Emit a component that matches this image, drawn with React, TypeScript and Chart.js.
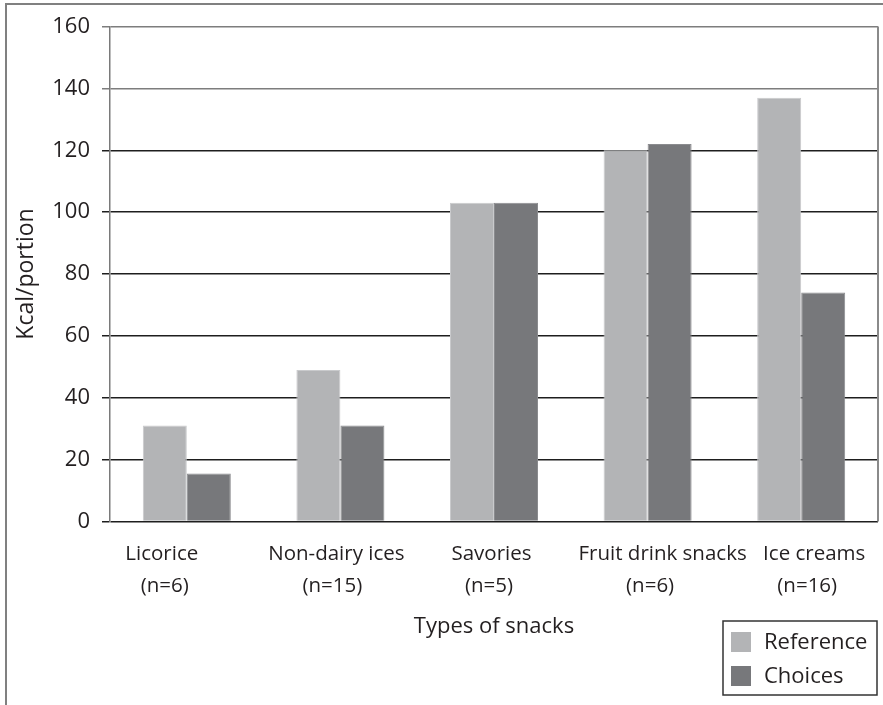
import { useEffect, useRef } from "react";
import { Chart, registerables } from "chart.js";

Chart.register(...registerables);

// Snack categories, sample sizes and energy per portion (kcal)
const categories = ["Licorice", "Non-dairy ices", "Savories", "Fruit drink snacks", "Ice creams"];
const sampleSizes = ["(n=6)", "(n=15)", "(n=5)", "(n=6)", "(n=16)"];
const referenceKcal = [31, 49, 103, 120, 137];
const choicesKcal = [15.5, 31, 103, 122, 74];
const seriesNames = ["Reference", "Choices"];
const yTickValues = [0, 20, 40, 60, 80, 100, 120, 140, 160];

const FONT = "'Open Sans', 'Noto Sans', sans-serif";
const INK = "#231f20";
const LIGHT = "#b3b4b6";
const DARK = "#77787b";

// Horizontal nudges of the two-line category captions (name, sample size)
const captionShift: [number, number][] = [
  [-25, -22],
  [-4, -8],
  [-2.5, -5],
  [15, 2.5],
  [13, 6],
];

const captionsPlugin = {
  id: "categoryCaptions",
  afterDraw(chart: any) {
    const { ctx, chartArea } = chart;
    const x = chart.scales.x;
    ctx.save();
    ctx.font = `20.5px ${FONT}`;
    ctx.fillStyle = INK;
    ctx.textAlign = "center";
    ctx.textBaseline = "alphabetic";
    categories.forEach((name, i) => {
      const cx = x.getPixelForValue(i);
      ctx.fillText(name, cx + captionShift[i][0], chartArea.bottom + 38.5);
      ctx.fillText(sampleSizes[i], cx + captionShift[i][1], chartArea.bottom + 70.5);
    });
    ctx.restore();
  },
};

const framePlugin = {
  id: "plotFrame",
  afterDraw(chart: any) {
    const { ctx, chartArea } = chart;
    ctx.save();
    ctx.strokeStyle = "#8a8a8a";
    ctx.lineWidth = 2;
    ctx.beginPath();
    ctx.moveTo(chartArea.right, chartArea.top);
    ctx.lineTo(chartArea.right, chartArea.bottom);
    ctx.stroke();
    ctx.restore();
  },
};

const legendPlugin = {
  id: "boxLegend",
  afterDraw(chart: any) {
    const { ctx } = chart;
    const left = 723;
    const top = 621;
    const width = 154;
    const height = 74;
    ctx.save();
    ctx.fillStyle = "#ffffff";
    ctx.fillRect(left, top, width, height);
    ctx.strokeStyle = "#333333";
    ctx.lineWidth = 1.5;
    ctx.strokeRect(left, top, width, height);
    ctx.font = `22px ${FONT}`;
    ctx.textAlign = "left";
    ctx.textBaseline = "middle";
    chart.data.datasets.forEach((ds: any, i: number) => {
      const rowY = top + 21 + i * 34;
      ctx.fillStyle = ds.backgroundColor;
      ctx.fillRect(left + 8, rowY - 10, 20, 20);
      ctx.fillStyle = INK;
      ctx.fillText(ds.label, left + 41, rowY + 1);
    });
    ctx.restore();
  },
};

export default function App() {
  const canvasRef = useRef<HTMLCanvasElement | null>(null);

  useEffect(() => {
    if (!canvasRef.current) return;
    const chart = new Chart(canvasRef.current, {
      type: "bar",
      data: {
        labels: categories,
        datasets: [
          {
            label: seriesNames[0],
            data: referenceKcal,
            backgroundColor: LIGHT,
            borderColor: "#c9cacc",
            borderWidth: 1,
            categoryPercentage: 0.573,
            barPercentage: 1,
          },
          {
            label: seriesNames[1],
            data: choicesKcal,
            backgroundColor: DARK,
            borderColor: "#8b8c8f",
            borderWidth: 1,
            categoryPercentage: 0.573,
            barPercentage: 1,
          },
        ],
      },
      options: {
        responsive: false,
        animation: false,
        devicePixelRatio: 1,
        layout: { padding: { left: 0, top: 26.5, right: 5, bottom: 0 } },
        plugins: {
          legend: { display: false },
          tooltip: { enabled: false },
        },
        scales: {
          x: {
            grid: { display: false, drawTicks: false },
            border: { display: false },
            ticks: { display: false },
            title: {
              display: true,
              text: "Types of snacks",
              color: INK,
              font: { family: FONT, size: 22 },
              padding: { top: 0, bottom: 65 },
            },
            afterFit(scale: any) {
              scale.height = 183.5;
            },
          },
          y: {
            min: 0,
            max: 160,
            afterBuildTicks(scale: any) {
              scale.ticks = yTickValues.map((v) => ({ value: v }));
            },
            grid: {
              color: (c: any) => (c.tick && c.tick.value >= 140 ? "#7d7d7d" : "#1e1e1e"),
              lineWidth: 1.5,
              drawTicks: true,
              tickLength: 8,
            },
            border: { display: true, color: "#7a7a7a", width: 1.5 },
            ticks: {
              color: INK,
              font: { family: FONT, size: 22 },
              padding: 12,
            },
            title: {
              display: true,
              text: "Kcal/portion",
              color: INK,
              font: { family: FONT, size: 23 },
              padding: { top: 13, bottom: 0 },
            },
            afterFit(scale: any) {
              scale.width = 110;
            },
          },
        },
      },
      plugins: [captionsPlugin, framePlugin, legendPlugin],
    });
    return () => chart.destroy();
  }, []);

  return (
    <div
      style={{
        position: "absolute",
        left: 0,
        top: 0,
        width: 883,
        height: 705,
        overflow: "hidden",
        background: "#ffffff",
      }}
    >
      <canvas
        ref={canvasRef}
        width={883}
        height={705}
        style={{ position: "absolute", left: 0, top: 0, width: 883, height: 705 }}
      />
      <div
        style={{
          position: "absolute",
          left: 5,
          top: 3,
          width: 1000,
          height: 1000,
          borderLeft: "2px solid #808080",
          borderTop: "2px solid #808080",
          pointerEvents: "none",
        }}
      />
    </div>
  );
}
